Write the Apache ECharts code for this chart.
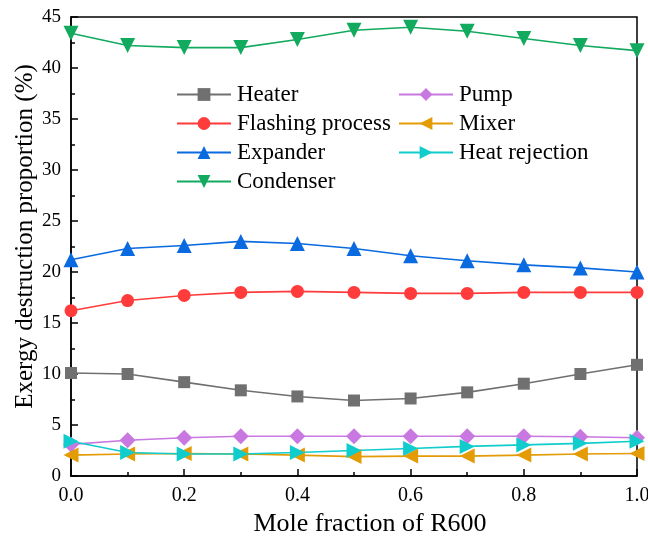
<!DOCTYPE html>
<html lang="en">
<head>
    <meta charset="UTF-8">
    <title>Exergy destruction proportion</title>
    <script src="https://cdn.jsdelivr.net/npm/echarts@6/dist/echarts.min.js"></script>
    <style>
        html, body { margin: 0; padding: 0; background: #fff; }
        #main { width: 648px; height: 540px; }
    </style>
</head>
<body>
    <div id="main"></div>
    <script type="text/javascript">
        // mole fraction of R600
        var molFrac = [0.0, 0.1, 0.2, 0.3, 0.4, 0.5, 0.6, 0.7, 0.8, 0.9, 1.0];

        var heater       = [10.1, 10.0, 9.2, 8.4, 7.8, 7.4, 7.6, 8.2, 9.05, 10.0, 10.9];
        var flashing     = [16.2, 17.2, 17.7, 18.0, 18.1, 18.0, 17.9, 17.9, 18.0, 18.0, 18.0];
        var expander     = [21.2, 22.3, 22.6, 23.0, 22.8, 22.3, 21.6, 21.1, 20.7, 20.4, 20.0];
        var condenser    = [43.4, 42.2, 42.0, 42.0, 42.8, 43.7, 44.0, 43.6, 42.9, 42.2, 41.7];
        var pump         = [3.1, 3.5, 3.75, 3.9, 3.9, 3.9, 3.9, 3.9, 3.9, 3.85, 3.75];
        var mixer        = [2.05, 2.15, 2.2, 2.15, 2.05, 1.9, 1.95, 1.95, 2.05, 2.15, 2.2];
        var heatRejection = [3.4, 2.3, 2.15, 2.15, 2.3, 2.5, 2.7, 2.9, 3.05, 3.2, 3.4];

        var yTicks = [0, 5, 10, 15, 20, 25, 30, 35, 40, 45];

        function pairs(arr) {
            return arr.map(function (v, i) { return [molFrac[i], v]; });
        }

        function mkSeries(name, arr, color, symbol, size, rotate) {
            return {
                name: name,
                type: 'line',
                data: pairs(arr),
                symbol: symbol,
                symbolSize: size,
                symbolRotate: rotate || 0,
                showAllSymbol: true,
                lineStyle: { color: color, width: 1.6 },
                itemStyle: { color: color },
                animation: false
            };
        }

        var font = 'Liberation Serif';
        var legendText = { fontFamily: font, fontSize: 23, color: '#000', padding: [0, 0, 0, 1] };
        const chart = echarts.init(document.getElementById('main'));
        var option = {
            backgroundColor: '#fff',
            textStyle: { fontFamily: font },
            grid: {
                left: 71, right: 11, top: 17, bottom: 64,
                outerBoundsMode: 'none',
                containLabel: false,
                show: true, borderColor: '#000', borderWidth: 1.5,
                backgroundColor: 'transparent'
            },
            legend: [{
                data: ['Heater', 'Flashing process', 'Expander', 'Condenser'],
                orient: 'vertical',
                left: 171, top: 78,
                itemWidth: 54, itemHeight: 16, itemGap: 6,
                textStyle: legendText
            }, {
                data: ['Pump', 'Mixer', 'Heat rejection'],
                orient: 'vertical',
                left: 393, top: 78,
                itemWidth: 54, itemHeight: 16, itemGap: 6,
                textStyle: legendText
            }],
            xAxis: {
                type: 'value',
                min: 0, max: 1, interval: 0.2,
                name: 'Mole fraction of R600',
                nameLocation: 'middle',
                nameGap: 35,
                nameMoveOverlap: false,
                nameTextStyle: { fontFamily: font, fontSize: 26, color: '#000', padding: [0, 0, 0, 32] },
                axisLine: { onZero: false, lineStyle: { color: '#000', width: 1.5 } },
                axisTick: { inside: true, length: 7, lineStyle: { color: '#000', width: 1.5 } },
                minorTick: { show: true, splitNumber: 2, length: 4, lineStyle: { color: '#000', width: 1.5 } },
                axisLabel: {
                    fontFamily: font, fontSize: 20, color: '#000', margin: 10,
                    formatter: function (v) { return v.toFixed(1); }
                },
                splitLine: { show: false }
            },
            yAxis: {
                type: 'value',
                min: yTicks[0], max: yTicks[yTicks.length - 1], interval: 5,
                name: 'Exergy destruction proportion (%)',
                nameLocation: 'middle',
                nameGap: 33,
                nameMoveOverlap: false,
                nameTextStyle: { fontFamily: font, fontSize: 25, color: '#000', padding: [0, 0, 0, 20] },
                axisLine: { onZero: false, lineStyle: { color: '#000', width: 1.5 } },
                axisTick: { inside: true, length: 7, lineStyle: { color: '#000', width: 1.5 } },
                minorTick: { show: true, splitNumber: 2, length: 4, lineStyle: { color: '#000', width: 1.5 } },
                axisLabel: { fontFamily: font, fontSize: 19, color: '#000', margin: 10 },
                splitLine: { show: false }
            },
            series: [
                mkSeries('Heater', heater, '#707070', 'rect', 12),
                mkSeries('Flashing process', flashing, '#FF3B3B', 'circle', 13),
                mkSeries('Expander', expander, '#0A6AE0', 'triangle', 15),
                mkSeries('Condenser', condenser, '#12AA5E', 'triangle', 15, 180),
                mkSeries('Pump', pump, '#C878E0', 'diamond', 16),
                mkSeries('Mixer', mixer, '#E39B06', 'triangle', 15, 90),
                mkSeries('Heat rejection', heatRejection, '#10CCCC', 'triangle', 15, -90)
            ]
        };
        chart.setOption(option);
    </script>
</body>
</html>
